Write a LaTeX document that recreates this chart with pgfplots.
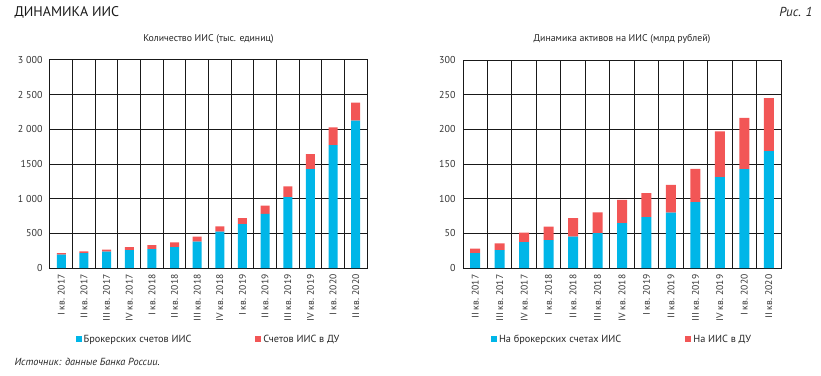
\documentclass[border=0pt]{standalone}
\usepackage{pgfplots}
\pgfplotsset{compat=1.18}
\usepackage{fontspec}
\setmainfont{PT Sans}
\definecolor{bblue}{RGB}{0,182,232}
\definecolor{rred}{RGB}{242,86,86}
\definecolor{gridc}{RGB}{25,25,25}
\pgfplotsset{
  iisaxis/.style={
    scale only axis,
    ybar stacked,
    ymin=0,
    axis line style={gridc,line width=1pt},
    grid style={gridc,line width=1pt},
    minor grid style={gridc,line width=1pt},
    ymajorgrids, xminorgrids,
    major tick length=0pt, minor tick length=0pt,
    tick style={draw=none},
    x tick label style={rotate=90,anchor=east,font=\fontsize{9.6}{10}\selectfont,text=black!80,xshift=-3pt},
    y tick label style={font=\fontsize{10}{11}\selectfont,text=black!80,xshift=-4pt},
    title style={at={(0.5,1)},anchor=center,yshift=15pt,font=\fontsize{9.8}{11}\selectfont,text=black!85},
    legend style={draw=none,fill=none,legend columns=2,font=\fontsize{10.3}{11}\selectfont,text=black!85,
      /tikz/every even column/.append style={column sep=62pt},inner sep=0pt},
    legend cell align=left,
    legend image code/.code={\fill[##1] (0pt,-3pt) rectangle (6pt,3pt);},
  }
}
\begin{document}
\begin{tikzpicture}
\useasboundingbox (0pt,0pt) rectangle (821pt,375pt);
\node[anchor=west,font=\fontsize{14}{16}\selectfont,text=black!90] at (11pt,363pt) {ДИНАМИКА ИИС};
\node[anchor=east,font=\itshape\fontsize{13}{15}\selectfont,text=black!85] at (816pt,363pt) {Рис. 1};
\node[anchor=west,font=\itshape\fontsize{10.3}{11}\selectfont,text=black!85] at (11pt,13pt) {Источник: данные Банка России.};

\begin{axis}[iisaxis,
  at={(50pt,107pt)},anchor=south west,width=317pt,height=208pt,
  ymax=3000,xmin=-0.5,xmax=13.5,
  bar width=9pt,
  xtick={0,...,13},
  minor xtick={0.5,1.5,...,12.5},
  xticklabels={I кв. 2017,II кв. 2017,III кв. 2017,IV кв. 2017,I кв. 2018,II кв. 2018,III кв. 2018,IV кв. 2018,I кв. 2019,II кв. 2019,III кв. 2019,IV кв. 2019,I кв. 2020,II кв. 2020},
  ytick={0,500,1000,1500,2000,2500,3000},
  yticklabels={0,500,1 000,1500,2 000,2 500,3 000},
  title={Количество ИИС (тыс. единиц)},
  legend style={at={(0.5,-0.342)},anchor=center},
]
\addplot[fill=bblue,draw=none] coordinates {(0,192) (1,216) (2,235) (3,259) (4,274) (5,302) (6,379) (7,523) (8,634) (9,782) (10,1022) (11,1426) (12,1771) (13,2126)};
\addplot[fill=rred,draw=none] coordinates {(0,24) (1,24) (2,29) (3,43) (4,57) (5,68) (6,72) (7,77) (8,86) (9,116) (10,154) (11,216) (12,259) (13,260)};
\legend{Брокерских счетов ИИС,Счетов ИИС в ДУ}
\end{axis}

\begin{axis}[iisaxis,
  at={(463pt,107pt)},anchor=south west,width=318pt,height=208pt,
  ymax=300,xmin=-0.5,xmax=12.5,
  bar width=10pt,
  xtick={0,...,12},
  minor xtick={0.5,1.5,...,11.5},
  xticklabels={II кв. 2017,III кв. 2017,IV кв. 2017,I кв. 2018,II кв. 2018,III кв. 2018,IV кв. 2018,I кв. 2019,II кв. 2019,III кв. 2019,IV кв. 2019,I кв. 2020,II кв. 2020},
  ytick={0,50,100,150,200,250,300},
  yticklabels={0,50,100,150,200,250,300},
  title={Динамика активов на ИИС (млрд рублей)},
  legend style={at={(0.5,-0.342)},anchor=center},
]
\addplot[fill=bblue,draw=none] coordinates {(0,21.6) (1,25.9) (2,37.4) (3,40.3) (4,45.1) (5,50.4) (6,64.8) (7,73.4) (8,79.7) (9,95) (10,131) (11,142.6) (12,168.5)};
\addplot[fill=rred,draw=none] coordinates {(0,6.2) (1,9.6) (2,13.5) (3,19.2) (4,26.9) (5,29.8) (6,33.6) (7,34.6) (8,40.3) (9,48) (10,66) (11,73.9) (12,76.5)};
\legend{На брокерских счетах ИИС,На ИИС в ДУ}
\end{axis}
\end{tikzpicture}
\end{document}
